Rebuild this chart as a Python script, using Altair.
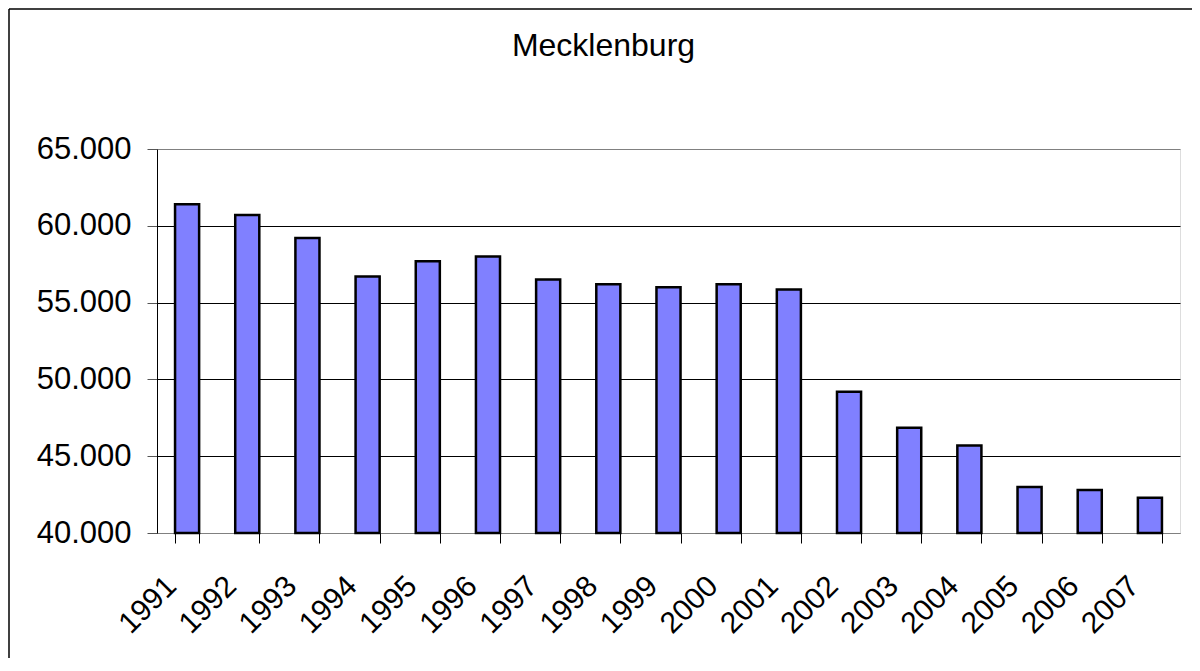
import altair as alt
import pandas as pd

years = ["1991", "1992", "1993", "1994", "1995", "1996", "1997", "1998", "1999",
         "2000", "2001", "2002", "2003", "2004", "2005", "2006", "2007"]
values = [61400, 60700, 59200, 56700, 57700, 58000, 56500, 56200, 56000,
          56200, 55850, 49200, 46850, 45700, 43000, 42800, 42300]
y_ticks = [40000, 45000, 50000, 55000, 60000, 65000]
title_text = "Mecklenburg"

df = pd.DataFrame({"Jahr": years, "Wert": values})
FONT = "Liberation Sans"

bars = alt.Chart(df).mark_bar(
    color="#8080FF", stroke="black", strokeWidth=2.5
).encode(
    x=alt.X("Jahr:N", sort=years,
            scale=alt.Scale(paddingInner=0.6, paddingOuter=0.3),
            axis=alt.Axis(title=None, labelAngle=-45, labelAlign="right",
                          labelBaseline="middle", labelPadding=38, labelOffset=-16,
                          labelFontSize=30, labelFont=FONT, labelColor="black",
                          tickBand="extent", tickSize=10, tickColor="black",
                          domainColor="#808080", labelOverlap=False)),
    y=alt.Y("Wert:Q",
            scale=alt.Scale(domain=[40000, 65000], zero=False, nice=False),
            axis=alt.Axis(title=None, values=y_ticks,
                          labelExpr="replace(format(datum.value, ','), ',', '.')",
                          labelFontSize=31, labelFont=FONT, labelColor="black",
                          labelPadding=16, tickSize=10, tickColor="#555555",
                          domainColor="black", grid=True,
                          gridColor=alt.condition("datum.value == 65000 || datum.value == 40000",
                                                  alt.value("#808080"), alt.value("black")),
                          gridWidth=1)),
    y2=alt.datum(40000),
)

one = pd.DataFrame({"a": [0]})
frame_top = alt.Chart(one).mark_rule(color="black", strokeWidth=1.5).encode(
    x=alt.value(-148), x2=alt.value(1040), y=alt.value(-140))
frame_left = alt.Chart(one).mark_rule(color="black", strokeWidth=1.5).encode(
    x=alt.value(-148), y=alt.value(-140), y2=alt.value(520))

chart = alt.layer(frame_top, frame_left, bars).properties(
    width=1023, height=384,
    title=alt.TitleParams(title_text, fontSize=32, font=FONT, fontWeight="normal",
                          color="black", anchor="middle", dx=-65, offset=-80,
                          baseline="alphabetic"),
    autosize=alt.AutoSizeParams(type="none"),
    padding={"left": 149, "top": 141, "right": 12, "bottom": 125},
).configure_view(fill="#C0C0C0", stroke="#808080", strokeWidth=1.5
).configure(background="white")

chart.save("out.html", embed_options={"renderer": "svg", "actions": False})
